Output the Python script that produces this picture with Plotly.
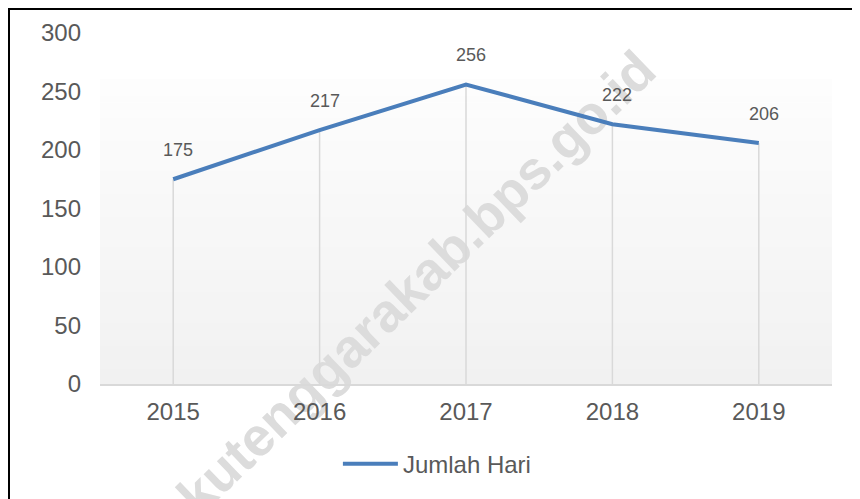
import plotly.graph_objects as go

years = ["2015", "2016", "2017", "2018", "2019"]
jumlah_hari = [175, 217, 256, 222, 206]
series_name = "Jumlah Hari"
y_ticks = [0, 50, 100, 150, 200, 250, 300]
watermark = "kutenggarakab.bps.go.id"

TXT = "#595959"
FONT = "Liberation Sans, Arial, sans-serif"
BLUE = "#4a7ebb"

fig = go.Figure()

# drop lines from each point to the axis
fig.add_trace(go.Scatter(
    x=years, y=jumlah_hari, mode="markers",
    marker=dict(size=1, opacity=0),
    error_y=dict(type="data", symmetric=False, array=[0] * len(jumlah_hari),
                 arrayminus=jumlah_hari, width=0, thickness=1.5, color="#d9d9d9"),
    showlegend=False, hoverinfo="skip",
))

fig.add_trace(go.Scatter(
    x=years, y=jumlah_hari, mode="lines", name=series_name,
    line=dict(color=BLUE, width=4),
))

# data labels
annotations = []
for i, yv in enumerate(jumlah_hari):
    annotations.append(dict(x=i, y=yv, xref="x", yref="y", text=str(yv),
                            showarrow=False, xshift=5, yshift=29,
                            font=dict(size=18, color=TXT, family=FONT)))

shapes = []
# gradient background for plot area
n = 40
top = 0.866
c_top = (253, 253, 253)
c_bot = (241, 241, 241)
for i in range(n):
    t = (i + 0.5) / n
    col = tuple(round(c_bot[k] + (c_top[k] - c_bot[k]) * t) for k in range(3))
    shapes.append(dict(type="rect", xref="x domain", yref="y domain",
                       x0=0, x1=1, y0=top * i / n, y1=top * (i + 1) / n + 0.002,
                       fillcolor="rgb(%d,%d,%d)" % col, line=dict(width=0),
                       layer="below"))

# watermark (below the traces)
wx, wy = 0.427, 0.300
shapes.append(dict(type="rect", xref="x domain", yref="y domain",
                   x0=wx - 0.02, x1=wx + 0.02, y0=wy - 0.02, y1=wy + 0.02,
                   line=dict(width=0), fillcolor="rgba(0,0,0,0)", layer="below",
                   label=dict(text="<b>%s</b>" % watermark, textangle=-44,
                              textposition="middle center",
                              font=dict(size=54, color="#dcdcdc", family=FONT))))

# outer frame
shapes.append(dict(type="rect", xref="paper", yref="paper",
                   x0=(1 - 92) / 732, x1=(850 - 92) / 732,
                   y0=-0.4, y1=1 + 24 / 351,
                   line=dict(color="black", width=2), fillcolor="rgba(0,0,0,0)",
                   layer="above"))

fig.update_layout(
    width=852, height=491, autosize=False,
    margin=dict(l=92, r=28, t=25, b=115),
    paper_bgcolor="white", plot_bgcolor="white",
    font=dict(family=FONT, color=TXT, size=24),
    shapes=shapes,
    annotations=annotations,
    showlegend=True,
    legend=dict(orientation="h", x=0.325, xanchor="left", y=-0.228, yanchor="middle",
                font=dict(size=24, color=TXT, family=FONT), itemwidth=55,
                bgcolor="rgba(0,0,0,0)"),
    xaxis=dict(type="category", range=[-0.5, 4.5], showgrid=False, zeroline=False,
               showline=True, linecolor="#d9d9d9", linewidth=1.5,
               ticks="", ticklabelstandoff=5,
               tickfont=dict(size=24, color=TXT, family=FONT)),
    yaxis=dict(range=[0, 300], tickvals=y_ticks, showgrid=False, zeroline=False,
               showline=False, ticks="", ticklabelstandoff=18,
               tickfont=dict(size=24, color=TXT, family=FONT)),
)

fig.write_html("out.html")
